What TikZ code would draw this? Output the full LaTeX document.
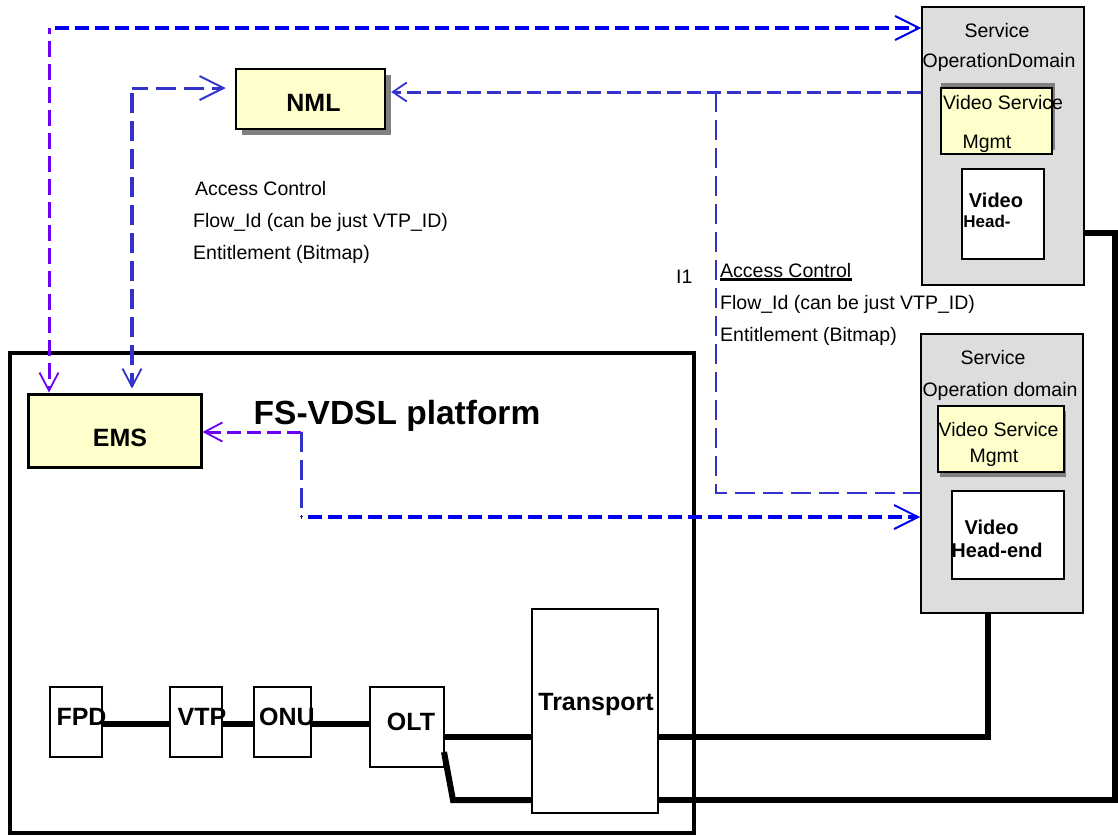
\documentclass[tikz,border=0pt]{standalone}
\usepackage{fontspec}
\setmainfont{Liberation Sans}
\usetikzlibrary{arrows.meta}
\definecolor{yel}{HTML}{FFFFCC}
\definecolor{svcgray}{HTML}{DDDDDD}
\definecolor{shgray}{HTML}{808080}
\definecolor{dblue}{HTML}{0000F0}
\definecolor{mblue}{HTML}{3333CC}
\definecolor{viol}{HTML}{6A00F5}
\begin{document}
\begin{tikzpicture}[x=1pt,y=-1pt,
  box/.style={draw, rectangle, inner sep=0pt},
  ybox/.style={box, fill=yel},
  shbox/.style={rectangle, inner sep=0pt, fill=shgray},
  lbl/.style={inner sep=0pt, anchor=base, font=\fontsize{19.5}{22}\selectfont},
  lbll/.style={lbl, anchor=base west},
  blbl/.style={inner sep=0pt, anchor=base, font=\fontsize{25}{28}\selectfont\bfseries},
  vlbl/.style={inner sep=0pt, anchor=base, font=\fontsize{20}{24}\selectfont\bfseries},
  wire/.style={line width=6pt, black, line join=miter},
  bigarr/.style={-{Straight Barb[length=24pt,width=24pt,line width=2pt]}},
  midarr/.style={-{Straight Barb[length=18pt,width=19pt,line width=1.8pt]}},
  smarr/.style={-{Straight Barb[length=14pt,width=19pt,line width=1.8pt]}},
  dsh/.style={dash pattern=on 14pt off 6pt},
  dshl/.style={dash pattern=on 20pt off 8pt}]
\useasboundingbox (0,0) rectangle (1118,836);

% platform
\node[box, line width=4.5pt, minimum width=684pt, minimum height=480pt] (plat) at (352,593) {};
\node[inner sep=0pt, anchor=base, font=\fontsize{33.5}{36}\selectfont\bfseries] (ptitle) at (397,424) {FS-VDSL platform};

% EMS
\node[ybox, line width=3pt, minimum width=173pt, minimum height=73pt] (ems) at (114.5,430.5) {};
\node[blbl] (emst) at (120,446) {EMS};

% NML
\node[shbox, minimum width=149pt, minimum height=60pt] (nmlsh) at (316.5,105) {};
\node[ybox, line width=2.5pt, minimum width=149pt, minimum height=60pt] (nml) at (310.5,99) {};
\node[blbl] (nmlt) at (313.5,111) {NML};

% text block 1
\node[lbll] (a1) at (195,195) {Access Control};
\node[lbll] (f1) at (193,227) {Flow\_Id (can be just VTP\_ID)};
\node[lbll] (e1) at (193,259) {Entitlement (Bitmap)};

% text block 2
\node[lbll] (i1) at (676,283) {I1};
\node[lbll] (a2) at (720,277) {Access Control};
\draw[line width=2.5pt] ([yshift=-2.5pt]a2.base west) -- ([yshift=-2.5pt]a2.base east);
\node[lbll] (f2) at (720,309) {Flow\_Id (can be just VTP\_ID)};
\node[lbll] (e2) at (720,341) {Entitlement (Bitmap)};

% Service domain A
\node[box, fill=svcgray, line width=1.5pt, minimum width=162pt, minimum height=278pt] (svcA) at (1003,146) {};
\node[lbl] (svcAt1) at (997,37) {Service};
\node[lbl] (svcAt2) at (999,67) {OperationDomain};
\node[shbox, minimum width=114pt, minimum height=67pt] (vsmAsh) at (998,116.5) {};
\node[ybox, line width=2pt, minimum width=111pt, minimum height=66pt] (vsmA) at (996.5,121) {};
\node[lbl] (vsmAt1) at (1003,109) {Video Service};
\node[lbl] (vsmAt2) at (987,148) {Mgmt};
\node[box, fill=white, line width=1.5pt, minimum width=82pt, minimum height=90pt] (vheA) at (1003,214) {};
\node[vlbl] (vheAt1) at (996,207) {Video};
\node[inner sep=0pt, anchor=base, font=\fontsize{17}{20}\selectfont\bfseries] (vheAt2) at (987,227) {Head-};

% Service domain B
\node[box, fill=svcgray, line width=1.5pt, minimum width=162pt, minimum height=279pt] (svcB) at (1002,473.5) {};
\node[lbl] (svcBt1) at (993,364) {Service};
\node[lbl] (svcBt2) at (1000,396) {Operation domain};
\node[shbox, minimum width=126pt, minimum height=66pt] (vsmBsh) at (1003,444) {};
\node[ybox, line width=2pt, minimum width=126pt, minimum height=66pt] (vsmB) at (1001,439) {};
\node[lbl] (vsmBt1) at (998.6,436) {Video Service};
\node[lbl] (vsmBt2) at (994,462) {Mgmt};
\node[box, fill=white, line width=1.5pt, minimum width=112pt, minimum height=88pt] (vheB) at (1008,535) {};
\node[vlbl] (vheBt1) at (991.6,534) {Video};
\node[vlbl] (vheBt2) at (997,557) {Head-end};

% lower chain
\node[box, line width=1.2pt, minimum width=52pt, minimum height=70pt] (fpd) at (76,722) {};
\node[box, line width=1.2pt, minimum width=52pt, minimum height=70pt] (vtp) at (196,722) {};
\node[box, line width=1.2pt, minimum width=57pt, minimum height=70pt] (onu) at (282.5,722) {};
\node[box, line width=1.2pt, minimum width=74pt, minimum height=80pt] (olt) at (407,727) {};
\node[box, line width=1.2pt, minimum width=126pt, minimum height=204pt] (trans) at (595,711) {};
\node[blbl] (fpdt) at (81.5,725) {FPD};
\node[blbl] (vtpt) at (202,725) {VTP};
\node[blbl] (onut) at (287,725) {ONU};
\node[blbl] (oltt) at (411,730) {OLT};
\node[blbl] (transt) at (596,710) {Transport};

% black wires
\coordinate (k0) at (0,724);
\draw[wire] (fpd.east |- k0) -- (vtp.west |- k0);
\draw[wire] (vtp.east |- k0) -- (onu.west |- k0);
\draw[wire] (onu.east |- k0) -- (olt.west |- k0);
\coordinate (k1) at (0,737);
\draw[wire] (olt.east |- k1) -- (trans.west |- k1);
\coordinate (k5) at (444,752);
\coordinate (k6) at (453,800);
\draw[wire] (k5) -- (k6) -- (trans.west |- k6);
\coordinate (k2) at (988,737);
\draw[wire] (trans.east |- k2) -- (k2) -- (k2 |- svcB.south);
\coordinate (k3) at (1115,800);
\coordinate (k4) at (1115,233);
\draw[wire] (trans.east |- k3) -- (k3) -- (k4) -- (k4 -| svcA.east);

% dashed connectors
\coordinate (c1) at (49,28);
\draw[viol, line width=3pt, dash pattern=on 16pt off 7pt, dash phase=10pt, midarr] (c1) -- (c1 |- ems.north);
\draw[dblue, line width=4pt, dsh, dash phase=-6pt, bigarr] (c1) -- (c1 -| svcA.west);

\coordinate (c2) at (132,88);
\draw[mblue, line width=4.5pt, dshl, dash phase=-5pt, shorten >=4pt, midarr] (c2) -- (c2 |- ems.north);
\draw[mblue, line width=3pt, dshl, dash phase=4pt, shorten >=9pt, bigarr] (c2) -- (c2 -| nml.west);

\coordinate (c3) at (716,92);
\draw[mblue, line width=3pt, dsh, smarr] (c3 -| svcA.west) -- (c3 -| nmlsh.east);
\coordinate (c4) at (716,493);
\draw[mblue, line width=2.5pt, dshl] (c3) -- (c4) -- (c4 -| svcB.west);

\coordinate (c5) at (301,432);
\draw[viol, line width=3pt, dsh, midarr] (c5) -- (c5 -| ems.east);
\coordinate (c6) at (301,517);
\draw[mblue, line width=3pt, dshl] (c5) -- (c6);
\draw[dblue, line width=4pt, dsh, dash phase=-7pt, bigarr] (c6) -- (c6 -| svcB.west);
\end{tikzpicture}
\end{document}
